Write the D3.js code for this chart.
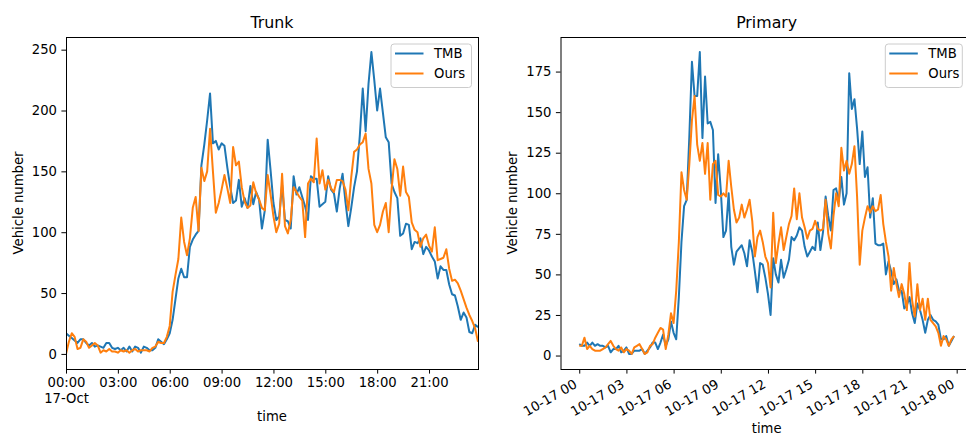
<!DOCTYPE html>
<html><head><meta charset="utf-8">
<script src="https://cdn.jsdelivr.net/npm/d3@7"></script>
<style>
body{margin:0;background:#fff;}
svg{display:block;font-family:"DejaVu Sans",sans-serif;}
</style></head><body>
<svg id="chart" width="966" height="435"></svg>
<script>
// ---------- data ----------
const seriesNames = ["TMB", "Ours"];
const seriesColors = ["#1f77b4", "#ff7f0e"];
const startTime = new Date(2019, 9, 17, 0, 0);
const stepMinutes = 10;

const trunkTMB = [17,15,13,11,9,12,12,9,7,9, 6,7,6,5,9,9,5,4,5,3, 5,2,6,2,6,5,1,6,5,3, 3,5,12,10,8,12,17,
  28,45,62,70,63,63,88,94,98,101,
  155,172,192,214,173,175,168,173,171,153,
  137,124,126,143,121,128,120,138,123,
  133,127,103,118,176,151,124,110,113,139,
  110,109,103,146,131,137,129,121,110,146,
  144,144,121,123,125,146,135,132,117,136,
  148,125,105,120,137,150,
  180,218,183,222,248,225,200,218,198,178,
  174,140,133,128,97,99,107,106,86,92,
  91,95,82,88,85,80,76,62,72,69,
  69,57,49,48,39,28,34,30,18,17,24,22];
const trunkOurs = [0,10,17,14,4,5,12,10,5,7, 9,7,1,3,2,4,2,2,1,3, 2,3,1,3,4,2,3,3,3,2, 5,6,10,9,9,14,23,
  51,65,78,112,92,81,95,120,129,101,
  153,142,150,185,150,116,124,135,147,136,
  124,170,155,158,137,125,120,122,141,
  132,127,120,118,147,131,113,100,107,148,
  105,99,110,137,133,129,126,96,140,144,
  141,177,140,151,135,143,136,133,143,143,
  142,135,118,145,166,168,
  172,174,181,152,140,106,100,106,117,124,
  100,135,160,152,130,154,133,129,108,102,
  100,88,95,98,89,84,104,77,78,79,
  86,70,60,61,58,52,45,38,32,27,21,10];

const primaryTMB = [7,6,6,8,6,8,6,7,6,6, 5,6,2,4,4,6,2,3,5,1, 1,3,3,3,4,1,3,5,8,8, 4,8,13,6,10,21,14,10,36,70,92,96,
  135,181,160,160,187,134,172,143,144,139,
  94,124,102,73,77,100,67,56,64,66,
  68,63,55,71,64,52,39,57,56,48,
  38,25,60,50,45,59,48,53,59,73,
  71,74,79,77,67,61,64,67,65,82,
  65,76,98,86,77,102,103,95,
  110,93,100,174,152,158,140,118,138,110,
  116,85,97,69,68,68,69,50,58,52,
  44,47,40,40,29,31,36,26,20,32,
  28,22,14,22,25,22,21,19,10,10,12,6,9,12];
const primaryOurs = [6,6,11,4,6,4,3,3,3,4, 5,7,9,6,4,3,5,2,4,3, 1,5,6,7,4,1,2,6,7,11, 14,17,16,4,13,26,20,40,70,113,102,96,
  118,145,160,130,120,131,112,131,96,118,
  120,99,98,100,98,120,104,90,82,85,
  93,85,90,96,83,61,73,77,70,61,
  57,42,88,57,69,79,65,73,81,86,
  103,84,100,85,79,72,77,78,83,78,
  77,78,96,75,66,86,100,92,
  128,114,120,112,118,129,98,56,77,85,
  92,88,92,89,90,99,81,70,61,40,
  54,44,36,44,38,28,57,34,24,44,
  28,35,22,35,22,20,18,14,6,12,10,6,10,12];

const trunkXTickHours = [0,3,6,9,12,15,18,21];
const trunkXTickLabels = ["00:00","03:00","06:00","09:00","12:00","15:00","18:00","21:00"];
const trunkXTickSubLabels = ["17-Oct","","","","","","",""];
const primaryXTickHours = [0,3,6,9,12,15,18,21,24];
const primaryXTickLabels = ["10-17 00","10-17 03","10-17 06","10-17 09","10-17 12","10-17 15","10-17 18","10-17 21","10-18 00"];
const trunkYTicks = [0,50,100,150,200,250];
const primaryYTicks = [0,25,50,75,100,125,150,175];
const panelTitles = ["Trunk", "Primary"];
const xAxisTitle = "time";
const yAxisTitle = "Vehicle number";

// ---------- drawing ----------
const svg = d3.select("#chart");
const FS = 13.2;
const times = d3.range(trunkTMB.length).map(i => d3.timeMinute.offset(startTime, i * stepMinutes));

function drawPanel(cfg, idx) {
  const g = svg.append("g");
  const [t0, t1] = d3.extent(times);
  let xDomain = [t0, t1];
  if (cfg.xPad) {
    const pad = (t1 - t0) * 0.05;
    xDomain = [new Date(+t0 - pad), new Date(+t1 + pad)];
  }
  const x = d3.scaleTime().domain(xDomain).range([cfg.left, cfg.right]);
  const all = cfg.series.flat();
  const [lo, hi] = d3.extent(all);
  const m = (hi - lo) * 0.05;
  const y = d3.scaleLinear().domain([lo - m, hi + m]).range([cfg.bottom, cfg.top]);

  const clipId = "clip" + idx;
  svg.append("defs").append("clipPath").attr("id", clipId)
    .append("rect").attr("x", cfg.left).attr("y", cfg.top)
    .attr("width", cfg.right - cfg.left).attr("height", cfg.bottom - cfg.top);

  const line = d3.line().x((d, i) => x(times[i])).y(d => y(d));
  const lines = g.append("g").attr("clip-path", `url(#${clipId})`);
  cfg.series.forEach((s, si) => {
    lines.append("path").datum(s)
      .attr("fill", "none").attr("stroke", seriesColors[si])
      .attr("stroke-width", 2).attr("stroke-linejoin", "round").attr("stroke-linecap", "butt")
      .attr("d", line);
  });

  // y axis
  const yAxis = g.append("g").attr("transform", `translate(${cfg.left},0)`)
    .call(d3.axisLeft(y).tickValues(cfg.yTicks).tickSize(4.6).tickPadding(4.4).tickSizeOuter(0));
  yAxis.select(".domain").remove();
  yAxis.attr("font-size", FS).attr("font-family", "DejaVu Sans, sans-serif");

  // x axis
  const tickDates = cfg.xTickHours.map(h => d3.timeHour.offset(startTime, h));
  const xAxis = g.append("g").attr("transform", `translate(0,${cfg.bottom})`)
    .call(d3.axisBottom(x).tickValues(tickDates).tickSize(4.6).tickPadding(4.4).tickSizeOuter(0)
      .tickFormat((d, i) => cfg.xTickLabels[i]));
  xAxis.select(".domain").remove();
  xAxis.attr("font-size", FS).attr("font-family", "DejaVu Sans, sans-serif");
  if (cfg.rotate) {
    xAxis.selectAll(".tick text")
      .attr("text-anchor", "end").attr("y", null).attr("dy", null)
      .attr("transform", "translate(-1.6,17.9) rotate(-30)");
  } else if (cfg.xTickSub) {
    xAxis.selectAll(".tick text").each(function (d, i) {
      const sub = cfg.xTickSub[i];
      if (sub) {
        const t = d3.select(this);
        const main = t.text();
        t.text(null);
        t.append("tspan").attr("x", 0).text(main);
        t.append("tspan").attr("x", 0).attr("dy", "1.2em").text(sub);
      }
    });
  }

  // frame
  g.append("rect").attr("x", cfg.left + 0.5).attr("y", cfg.top + 0.5)
    .attr("width", cfg.right - cfg.left).attr("height", cfg.bottom - cfg.top)
    .attr("fill", "none").attr("stroke", "#000").attr("stroke-width", 1);

  // titles
  const cx = (cfg.left + cfg.right) / 2;
  g.append("text").attr("x", cx).attr("y", 27.5).attr("text-anchor", "middle")
    .attr("font-size", 15.8).text(cfg.title);
  g.append("text").attr("x", cx).attr("y", cfg.xLabelY).attr("text-anchor", "middle")
    .attr("font-size", FS).text(xAxisTitle);
  g.append("text").attr("transform", `translate(${cfg.yLabelX},${(cfg.top + cfg.bottom) / 2}) rotate(-90)`)
    .attr("text-anchor", "middle").attr("font-size", FS).text(yAxisTitle);

  // legend
  const L = cfg.legend;
  const lg = g.append("g");
  lg.append("rect").attr("x", L.x + 0.5).attr("y", L.y + 0.5).attr("width", L.w).attr("height", L.h)
    .attr("rx", 3).attr("fill", "#fff").attr("fill-opacity", 0.8).attr("stroke", "#cccccc").attr("stroke-width", 1);
  seriesNames.forEach((name, si) => {
    const ly = L.y + 10 + si * 20;
    lg.append("line").attr("x1", L.x + 4.5).attr("x2", L.x + 33).attr("y1", ly).attr("y2", ly)
      .attr("stroke", seriesColors[si]).attr("stroke-width", 2);
    lg.append("text").attr("x", L.x + 43.5).attr("y", ly + 4.8).attr("font-size", FS).text(name);
  });
}

drawPanel({
  left: 66, right: 478, top: 37, bottom: 369, xPad: false,
  series: [trunkTMB, trunkOurs], yTicks: trunkYTicks,
  xTickHours: trunkXTickHours, xTickLabels: trunkXTickLabels, xTickSub: trunkXTickSubLabels,
  rotate: false, title: panelTitles[0], xLabelY: 421, yLabelX: 22.5,
  legend: { x: 390.5, y: 43.5, w: 80.5, h: 43.5 }
}, 0);

drawPanel({
  left: 560.5, right: 972.8, top: 37, bottom: 369, xPad: true,
  series: [primaryTMB, primaryOurs], yTicks: primaryYTicks,
  xTickHours: primaryXTickHours, xTickLabels: primaryXTickLabels,
  rotate: true, title: panelTitles[1], xLabelY: 432.5, yLabelX: 516.5,
  legend: { x: 884.8, y: 43.5, w: 77, h: 43.5 }
}, 1);
</script>
</body></html>
